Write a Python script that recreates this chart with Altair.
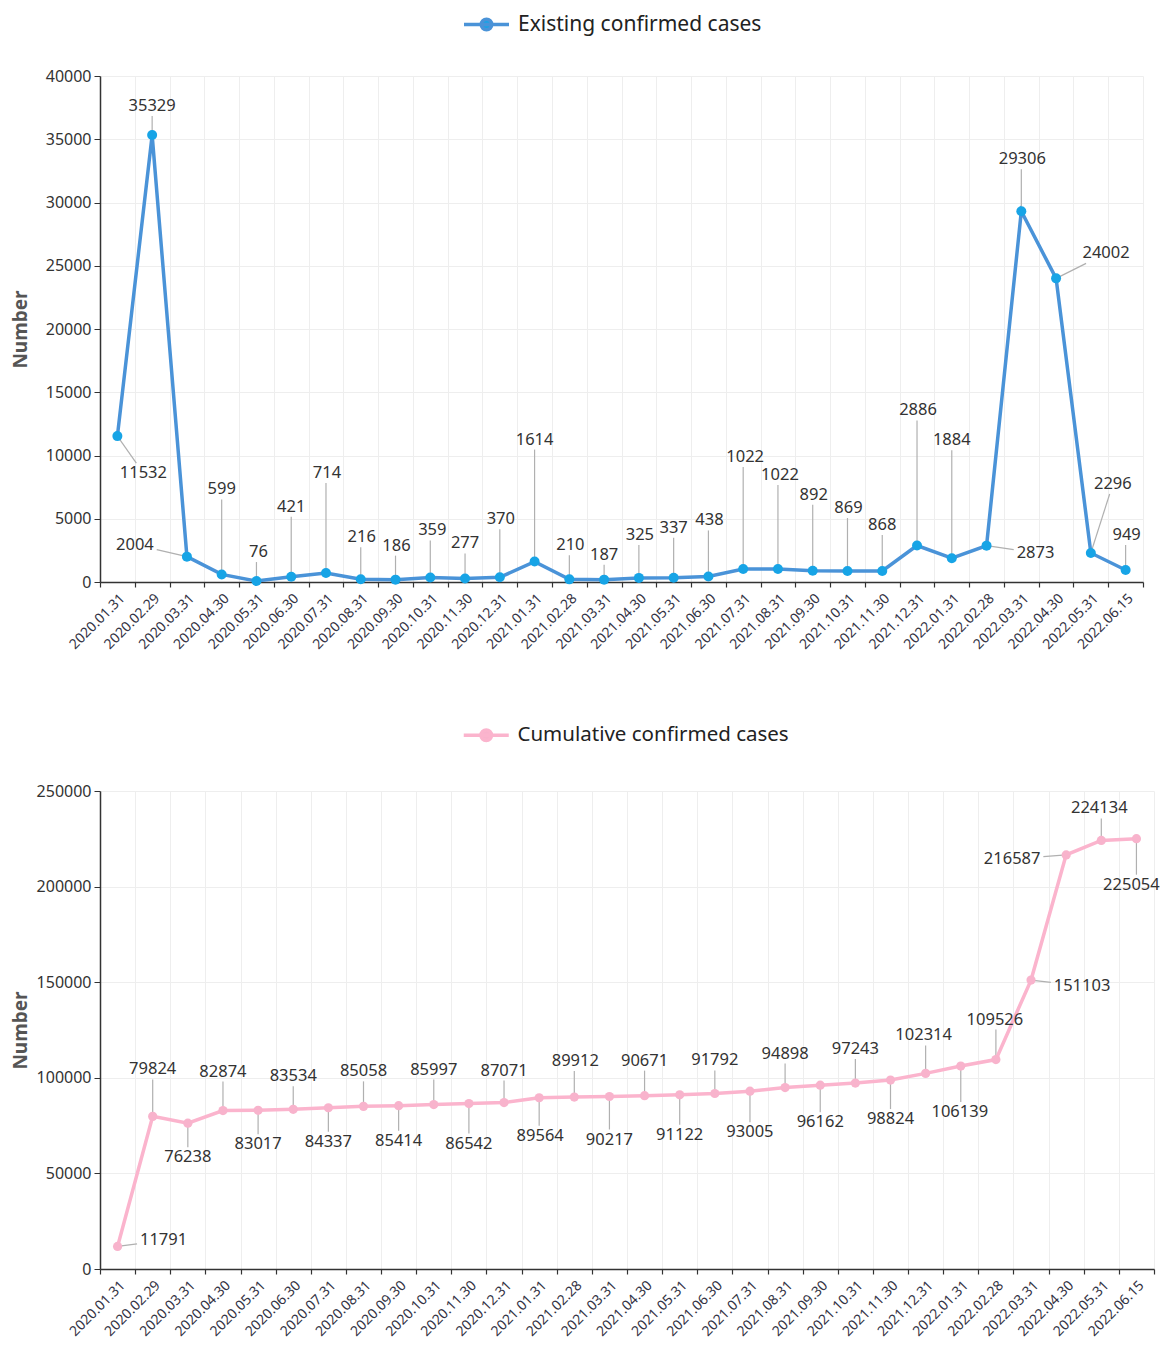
import math
import altair as alt
import pandas as pd

# ---------------- data ----------------
dates = ["2020.01.31", "2020.02.29", "2020.03.31", "2020.04.30", "2020.05.31", "2020.06.30",
         "2020.07.31", "2020.08.31", "2020.09.30", "2020.10.31", "2020.11.30", "2020.12.31",
         "2021.01.31", "2021.02.28", "2021.03.31", "2021.04.30", "2021.05.31", "2021.06.30",
         "2021.07.31", "2021.08.31", "2021.09.30", "2021.10.31", "2021.11.30", "2021.12.31",
         "2022.01.31", "2022.02.28", "2022.03.31", "2022.04.30", "2022.05.31", "2022.06.15"]

existing = [11532, 35329, 2004, 599, 76, 421, 714, 216, 186, 359, 277, 370, 1614, 210, 187,
            325, 337, 438, 1022, 1022, 892, 869, 868, 2886, 1884, 2873, 29306, 24002, 2296, 949]

cumulative = [11791, 79824, 76238, 82874, 83017, 83534, 84337, 85058, 85414, 85997, 86542,
              87071, 89564, 89912, 90217, 90671, 91122, 91792, 93005, 94898, 96162, 97243,
              98824, 102314, 106139, 109526, 151103, 216587, 224134, 225054]

# label placement (pixel offset of label centre from its point)
existing_label_offsets = [(26, 37), (0, -29), (-52, -12), (0, -85), (2, -29), (0, -70), (1, -100),
                          (1, -42), (1, -34), (2, -47), (0, -35), (1, -58), (0, -122), (1, -34),
                          (0, -25), (1, -43), (0, -50), (1, -56), (2, -112), (2, -94), (1, -76),
                          (1, -63), (0, -46), (1, -135), (0, -118), (49, 7), (1, -52), (50, -25),
                          (22, -69), (1, -35)]

cumulative_label_offsets = [(46, -6), (0, -47), (0, 34), (0, -39), (0, 34), (0, -33), (0, 34),
                            (0, -35), (0, 35), (0, -35), (0, 40), (0, -32), (1, 38), (1, -36),
                            (0, 43), (0, -35), (0, 40), (0, -33), (0, 41), (0, -34), (0, 37),
                            (0, -34), (0, 39), (-2, -38), (-1, 46), (-1, -40), (51, 6), (-54, 4),
                            (-2, -32), (-5, 46)]

FONT = "Noto Sans"
LABEL_SIZE = 16.5
CHAR_W = 9.4


def build_rows(values, offsets, w, h, ymax):
    xpp = 30.0 / w          # x data units per pixel
    ypp = ymax / float(h)   # y data units per pixel
    rows = []
    for i, (v, (dx, dy)) in enumerate(zip(values, offsets)):
        txt = str(v)
        halfw = len(txt) * CHAR_W / 2 + 3
        halfh = 10
        if abs(dx) < 6:
            lx, ly = 0.0, dy + (halfh if dy < 0 else -halfh)
        else:
            t = min(halfw / abs(dx), halfh / abs(dy) if dy != 0 else 1e9)
            lx, ly = dx * (1 - t), dy * (1 - t)
        rows.append({
            "idx": i,
            "date": dates[i],
            "value": v,
            "label": txt,
            "tx": i + dx * xpp,
            "ty": v - dy * ypp,
            "lx": i + lx * xpp,
            "ly": v - ly * ypp,
        })
    return pd.DataFrame(rows)


label_expr = "[" + ",".join("'%s'" % d for d in dates) + "][round(datum.value + 0.5)] || ''"


def panel(values, offsets, series_name, line_color, point_color, point_size,
          ymax, ystep, w, h, legend_x, legend_y, legend_size):
    df = build_rows(values, offsets, w, h, ymax)
    df["series"] = series_name
    band = w / 30.0
    xs = alt.Scale(domain=[-0.5, 29.5], nice=False, zero=False)
    ys = alt.Scale(domain=[0, ymax], nice=False)
    xaxis = alt.Axis(values=[i - 0.5 for i in range(31)], labelExpr=label_expr,
                     labelAngle=315, labelAlign="right", labelBaseline="top",
                     labelOffset={"condition": {"test": "datum.value > 29", "value": 0},
                                  "value": band / 2},
                     labelFontSize={"condition": {"test": "datum.value > 29", "value": 0},
                                    "value": 14},
                     labelFlush=False, labelOverlap=False,
                     labelBound=False, tickCount=31,
                     labelFont=FONT, labelColor="#333344",
                     labelPadding=4, tickSize=5, tickColor="#333333",
                     domainColor="#333333", domainWidth=1.5, tickWidth=1.2,
                     grid=True, gridColor="#eeeeee", title=None)
    yaxis = alt.Axis(values=list(range(0, ymax + 1, ystep)), format="d", labelFont=FONT,
                     labelFontSize=16, labelColor="#333333", tickSize=6, labelPadding=3,
                     tickColor="#333333", domainColor="#333333", domainWidth=1.5,
                     grid=True, gridColor="#eeeeee", title="Number", titleFont=FONT,
                     titleFontSize=19, titleFontWeight="bold", titleColor="#555555",
                     titlePadding=6, minExtent=64, maxExtent=64)
    X = lambda f: alt.X(f, scale=xs, axis=xaxis)
    Y = lambda f: alt.Y(f, scale=ys, axis=yaxis)
    base = alt.Chart(df)
    leaders = base.mark_rule(color="#b0b0b0", strokeWidth=1.2).encode(
        x=X("idx:Q"), y=Y("value:Q"), x2="lx:Q", y2="ly:Q")
    line = base.mark_line(strokeWidth=3.5).encode(
        x=X("idx:Q"), y=Y("value:Q"),
        color=alt.Color("series:N",
                        scale=alt.Scale(domain=[series_name], range=[line_color]),
                        legend=alt.Legend(
                            orient="none", legendX=legend_x, legendY=legend_y,
                            title=None, labelFont=FONT, labelFontSize=legend_size,
                            labelColor="#222222", direction="horizontal", labelLimit=600,
                            symbolType="M-3,0H3M-0.7,0A0.7,0.7 0 1,0 0.7,0A0.7,0.7 0 1,0 -0.7,0",
                            symbolSize=225, symbolStrokeWidth=3.5,
                            symbolFillColor=point_color, symbolStrokeColor=line_color,
                            labelOffset=21)))
    points = base.mark_circle(size=point_size, opacity=1, color=point_color).encode(
        x=X("idx:Q"), y=Y("value:Q"))
    labels = base.mark_text(font=FONT, fontSize=LABEL_SIZE, color="#333333",
                            baseline="middle").encode(
        x=X("tx:Q"), y=Y("ty:Q"), text="label:N")
    return alt.layer(leaders, line, points, labels).properties(width=w, height=h)


top = panel(existing, existing_label_offsets, "Existing confirmed cases",
            "#4a93d8", "#17a4e6", 100, 40000, 5000, 1043, 506, 376, -62, 21)
bottom = panel(cumulative, cumulative_label_offsets, "Cumulative confirmed cases",
               "#fbb4cd", "#f8b3cc", 85, 250000, 50000, 1054, 478, 376, -66, 20.5)

chart = alt.vconcat(top, bottom, spacing=73).resolve_scale(
    color="independent", x="independent", y="independent"
).properties(padding={"left": 3, "top": 6, "right": 0, "bottom": 0}).configure_view(stroke=None)

chart.save("out.html", embed_options={"renderer": "svg", "actions": False})
